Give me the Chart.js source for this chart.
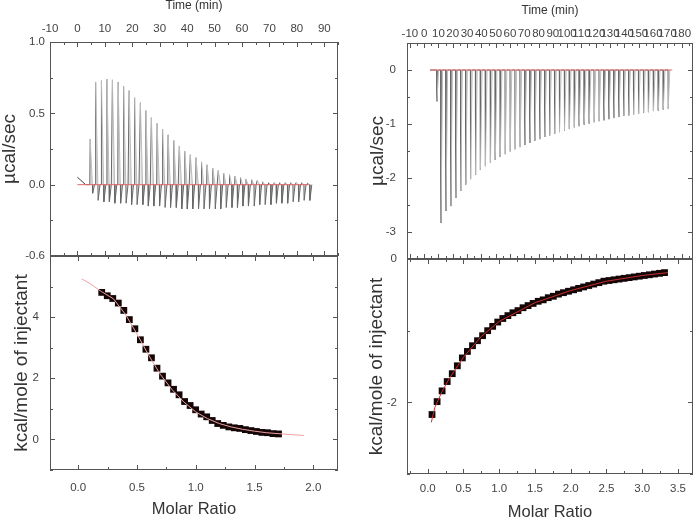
<!DOCTYPE html>
<html>
<head>
<meta charset="utf-8">
<script src="https://cdn.jsdelivr.net/npm/chart.js@4.4.0/dist/chart.umd.min.js"></script>
<style>
  html, body { margin: 0; padding: 0; background: #fff; }
  #wrap { position: relative; width: 700px; height: 521px; }
  #wrap canvas { position: absolute; left: 0; top: 0; }
</style>
</head>
<body>
<div id="wrap">
  <canvas id="lt" width="700" height="521"></canvas>
  <canvas id="lb" width="700" height="521"></canvas>
  <canvas id="rt" width="700" height="521"></canvas>
  <canvas id="rb" width="700" height="521"></canvas>
</div>
<script>
// Left thermogram (µcal/sec vs time)
const ltInjTime = [4.5, 6.5, 8.6, 10.6, 12.6, 14.7, 16.7, 18.7, 20.7, 22.8,
    24.8, 26.8, 28.9, 30.9, 32.9, 35.0, 37.0, 39.0, 41.0, 43.1,
    45.1, 47.1, 49.2, 51.2, 53.2, 55.3, 57.3, 59.3, 61.3, 63.4,
    65.4, 67.4, 69.5, 71.5, 73.5, 75.6, 77.6, 79.6, 81.6, 83.7];
const ltPeak = [0.32, 0.72, 0.73, 0.74, 0.735, 0.72, 0.69, 0.66, 0.61, 0.575,
    0.52, 0.47, 0.43, 0.39, 0.35, 0.31, 0.27, 0.235, 0.21, 0.19,
    0.16, 0.14, 0.115, 0.10, 0.08, 0.07, 0.06, 0.05, 0.04, 0.035,
    0.03, 0.02, 0.015, 0.015, 0.015, 0.015, 0.015, 0.015, 0.015, 0.012];
const ltTrough = [-0.06, -0.11, -0.12, -0.12, -0.13, -0.13, -0.13, -0.14, -0.14, -0.14,
    -0.15, -0.15, -0.15, -0.16, -0.16, -0.16, -0.17, -0.17, -0.17, -0.17,
    -0.17, -0.17, -0.17, -0.17, -0.16, -0.16, -0.16, -0.15, -0.15, -0.15,
    -0.14, -0.14, -0.14, -0.13, -0.13, -0.13, -0.12, -0.12, -0.11, -0.11];
const ltDriftTime = [0, 3.0];
const ltDriftVal = [0.052, 0.0];
const ltBaseTime = [0, 84.3];
const ltBaseVal = [0, 0];

// Left isotherm (kcal/mole vs molar ratio)
const lbRatio = [0.200, 0.247, 0.294, 0.341, 0.388, 0.435, 0.482, 0.529, 0.576, 0.623,
    0.670, 0.717, 0.764, 0.811, 0.858, 0.905, 0.952, 0.999, 1.046, 1.093,
    1.140, 1.187, 1.234, 1.281, 1.328, 1.375, 1.422, 1.469, 1.516, 1.563,
    1.610, 1.657, 1.704];
const lbHeat = [4.81, 4.70, 4.61, 4.46, 4.22, 3.92, 3.62, 3.26, 2.95, 2.67,
    2.33, 2.07, 1.85, 1.64, 1.46, 1.24, 1.11, 0.97, 0.83, 0.74,
    0.62, 0.52, 0.46, 0.41, 0.38, 0.36, 0.32, 0.29, 0.26, 0.23,
    0.22, 0.19, 0.18];
const lbFitRatio = [0.03, 0.1, 0.2, 0.3, 0.4, 0.5, 0.6, 0.7, 0.8, 0.9, 1.0,
    1.1, 1.2, 1.3, 1.4, 1.5, 1.6, 1.7, 1.8, 1.92];
const lbFitHeat = [5.25, 5.1, 4.83, 4.6, 4.1, 3.45, 2.75, 2.12, 1.62, 1.22, 0.9,
    0.68, 0.52, 0.41, 0.33, 0.27, 0.22, 0.19, 0.16, 0.13];

// Right thermogram
const rtInjTime = [8.8, 11.6, 15.1, 18.5, 22.0, 25.4, 28.9, 32.3, 35.8, 39.2, 42.7,
    46.2, 49.6, 53.1, 56.5, 60.0, 63.4, 66.9, 70.3, 73.8, 77.2,
    80.7, 84.2, 87.6, 91.1, 94.5, 98.0, 101.4, 104.9, 108.3, 111.8,
    115.3, 118.7, 122.2, 125.6, 129.1, 132.5, 136.0, 139.4, 142.9, 146.3,
    149.8, 153.3, 156.7, 160.2, 163.6, 167.1, 170.5];
const rtDepth = [-0.58, -2.83, -2.61, -2.52, -2.37, -2.24, -2.12, -2.02, -1.94, -1.85, -1.78,
    -1.72, -1.66, -1.61, -1.56, -1.51, -1.47, -1.43, -1.39, -1.35, -1.31,
    -1.28, -1.24, -1.21, -1.18, -1.15, -1.12, -1.09, -1.06, -1.04, -1.01,
    -0.99, -0.97, -0.95, -0.93, -0.91, -0.89, -0.87, -0.85, -0.84, -0.82,
    -0.81, -0.79, -0.78, -0.76, -0.75, -0.73, -0.72];
const rtBaseTime = [4.1, 173.5];
const rtBaseVal = [0, 0];

// Right isotherm
const rbRatio = [0.060, 0.131, 0.201, 0.272, 0.343, 0.414, 0.484, 0.555, 0.626, 0.696,
    0.767, 0.838, 0.908, 0.979, 1.050, 1.121, 1.191, 1.262, 1.333, 1.403,
    1.474, 1.545, 1.615, 1.686, 1.757, 1.828, 1.898, 1.969, 2.040, 2.110,
    2.181, 2.252, 2.322, 2.393, 2.464, 2.535, 2.605, 2.676, 2.747, 2.817,
    2.888, 2.959, 3.029, 3.100, 3.171, 3.242, 3.312];
const rbHeat = [-2.17, -1.99, -1.84, -1.71, -1.60, -1.49, -1.38, -1.29, -1.21, -1.14,
    -1.07, -1.00, -0.94, -0.88, -0.83, -0.79, -0.75, -0.72, -0.68, -0.65,
    -0.62, -0.59, -0.57, -0.54, -0.52, -0.49, -0.47, -0.45, -0.43, -0.41,
    -0.39, -0.37, -0.35, -0.33, -0.31, -0.30, -0.29, -0.28, -0.27, -0.26,
    -0.25, -0.24, -0.23, -0.22, -0.21, -0.20, -0.19];
const rbFitRatio = [0.05, 0.1, 0.2, 0.3, 0.5, 0.75, 1.0, 1.5, 2.0, 2.5, 3.0, 3.36];
const rbFitHeat = [-2.28, -2.07, -1.85, -1.67, -1.37, -1.08, -0.87, -0.61, -0.44, -0.31, -0.23, -0.19];

// Tick labels
const ltTimeTicks = [-10, 0, 10, 20, 30, 40, 50, 60, 70, 80, 90];
const ltYTicks = [1.0, 0.5, 0.0, -0.5];
const ltYLabels = ['1.0', '0.5', '0.0', '-0.6'];
const lbXTicks = [0, 0.5, 1.0, 1.5, 2.0];
const lbXLabels = ['0.0', '0.5', '1.0', '1.5', '2.0'];
const lbYTicks = [4, 2, 0];
const rtTimeTicks = [-10, 0, 10, 20, 30, 40, 50, 60, 70, 80, 90, 100, 110, 120, 130, 140, 150, 160, 170, 180];
const rtYTicks = [0, -1, -2, -3];
const rbXTicks = [0, 0.5, 1.0, 1.5, 2.0, 2.5, 3.0, 3.5];
const rbXLabels = ['0.0', '0.5', '1.0', '1.5', '2.0', '2.5', '3.0', '3.5'];
const rbYTicks = [0, -2];

const FONT = '"Liberation Sans", Arial, sans-serif';
const DARK = '#686868';
const LIGHT = '#bdbdbd';
const FILL = 'rgba(205,205,205,0.75)';

function zip(xs, ys) {
    return xs.map((x, i) => ({ x: x, y: ys[i] }));
}

// traço do termograma: sobe até o pico, desce abaixo de zero, volta à linha de base
function thermoUp(times, peaks, troughs, start) {
    const pts = [{ x: start, y: 0 }];
    times.forEach((t, i) => {
        pts.push({ x: t, y: 0 }, { x: t + 0.15, y: peaks[i] }, { x: t + 0.95, y: 0 },
            { x: t + 1.05, y: troughs[i] }, { x: t + 1.75, y: 0 });
    });
    return pts;
}

function thermoDown(times, depths, start) {
    const pts = [{ x: start, y: 0 }];
    times.forEach((t, i) => {
        pts.push({ x: t, y: 0 }, { x: t + 0.15, y: depths[i] }, { x: t + 1.3, y: 0 });
    });
    return pts;
}

function same(a, b) { return Math.abs(a - b) < 1e-6; }

function buildTicks(labelled, step) {
    return function (scale) {
        const vals = labelled.slice();
        const first = Math.ceil(scale.min / step - 1e-9) * step;
        for (let v = first; v <= scale.max + 1e-9; v += step) {
            const r = Math.round(v * 1000) / 1000;
            if (!vals.some(l => same(l, r))) vals.push(r);
        }
        vals.sort((a, b) => a - b);
        scale.ticks = vals.map(v => ({ value: v, major: labelled.some(l => same(l, v)) }));
    };
}

function labelFor(labelled, texts) {
    return function (value) {
        const k = labelled.findIndex(l => same(l, value));
        return k < 0 ? '' : texts[k];
    };
}

function axis(c, pos) {
    return {
        type: 'linear',
        position: pos,
        min: c.min,
        max: c.max,
        grid: { display: false, drawTicks: false },
        border: { display: false },
        afterBuildTicks: buildTicks(c.ticks, c.step),
        afterFit: s => {
            if (pos === 'left') s.width = c.size; else s.height = c.size;
        },
        ticks: {
            autoSkip: false, maxRotation: 0, minRotation: 0,
            padding: c.pad, color: '#444',
            font: { family: FONT, size: 11.5 },
            callback: labelFor(c.ticks, c.labels || c.ticks.map(String))
        },
        title: {
            display: true, text: c.title, color: '#333', padding: 0,
            font: { family: FONT, size: c.titleSize, lineHeight: 1 }
        }
    };
}

// moldura com marcas de escala para dentro
const framePlugin = {
    id: 'frame',
    afterDatasetsDraw(chart) {
        const { ctx, chartArea: a } = chart;
        const xs = chart.scales.x, ys = chart.scales.y;
        ctx.save();
        ctx.strokeStyle = '#555';
        ctx.lineWidth = 1;
        ctx.strokeRect(a.left + 0.5, a.top + 0.5, a.right - a.left - 1, a.bottom - a.top - 1);
        ctx.beginPath();
        xs.ticks.forEach(t => {
            const p = Math.round(xs.getPixelForValue(t.value)) + 0.5;
            const len = t.major ? 5 : 3;
            ctx.moveTo(p, a.top); ctx.lineTo(p, a.top + len);
            ctx.moveTo(p, a.bottom); ctx.lineTo(p, a.bottom - len);
        });
        ys.ticks.forEach(t => {
            const p = Math.round(ys.getPixelForValue(t.value)) + 0.5;
            const len = t.major ? 5 : 3;
            ctx.moveTo(a.left, p); ctx.lineTo(a.left + len, p);
            ctx.moveTo(a.right, p); ctx.lineTo(a.right - len, p);
        });
        ctx.stroke();
        ctx.restore();
    }
};

function panelOptions(pad, xCfg, yCfg) {
    return {
        responsive: false,
        animation: false,
        layout: { padding: pad },
        plugins: { legend: { display: false }, tooltip: { enabled: false } },
        scales: { x: axis(xCfg, xCfg.position), y: axis(yCfg, 'left') }
    };
}

function lineSet(data, color, extra) {
    return Object.assign({ data: data, showLine: true, borderColor: color, borderWidth: 1, pointRadius: 0 }, extra || {});
}

function squareSet(data) {
    return { data: data, showLine: false, pointStyle: 'rect', pointRadius: 4.8,
        backgroundColor: '#140606', borderWidth: 0 };
}

// Painel superior esquerdo
new Chart(document.getElementById('lt'), {
    type: 'scatter',
    data: {
        datasets: [
            lineSet(zip(ltBaseTime, ltBaseVal), '#e26a6a'),
            lineSet(zip(ltDriftTime, ltDriftVal), '#444'),
            lineSet(thermoUp(ltInjTime, ltPeak, ltTrough, ltDriftTime[1]), DARK, {
                fill: 'origin', backgroundColor: FILL,
                segment: { borderColor: ctx => ((ctx.p0DataIndex - 1) % 5 === 1 ? LIGHT : DARK) }
            })
        ]
    },
    options: panelOptions({ left: 0, top: 0, right: 362, bottom: 265 },
        { position: 'top', min: -10, max: 95, ticks: ltTimeTicks, step: 5, size: 42, pad: 6.6, title: 'Time (min)', titleSize: 12 },
        { min: -0.5, max: 1.0, ticks: ltYTicks, labels: ltYLabels, step: 0.25, size: 50, pad: 5, title: 'µcal/sec', titleSize: 19 }),
    plugins: [framePlugin]
});

// Painel inferior esquerdo
new Chart(document.getElementById('lb'), {
    type: 'scatter',
    data: {
        datasets: [
            lineSet(zip(lbFitRatio, lbFitHeat), '#f0a0a0'),
            squareSet(zip(lbRatio, lbHeat))
        ]
    },
    options: panelOptions({ left: 12.5, top: 256, right: 362, bottom: 3 },
        { position: 'bottom', min: -0.24, max: 2.21, ticks: lbXTicks, labels: lbXLabels, step: 0.25, size: 48, pad: 10.6, title: 'Molar Ratio', titleSize: 16.5 },
        { min: -1, max: 6, ticks: lbYTicks, step: 1, size: 37.5, pad: 11, title: 'kcal/mole of injectant', titleSize: 19 }),
    plugins: [framePlugin]
});

// Painel superior direito
new Chart(document.getElementById('rt'), {
    type: 'scatter',
    data: {
        datasets: [
            lineSet(zip(rtBaseTime, rtBaseVal), '#e26a6a'),
            lineSet(thermoDown(rtInjTime, rtDepth, rtBaseTime[0]), DARK, {
                fill: 'origin', backgroundColor: FILL,
                segment: { borderColor: ctx => ((ctx.p0DataIndex - 1) % 3 === 1 ? LIGHT : DARK) }
            })
        ]
    },
    options: panelOptions({ left: 368, top: 5, right: 7, bottom: 262 },
        { position: 'top', min: -12, max: 188, ticks: rtTimeTicks, step: 5, size: 38, pad: 2.6, title: 'Time (min)', titleSize: 12 },
        { min: -3.5, max: 0.5, ticks: rtYTicks, step: 0.5, size: 39, pad: 11, title: 'µcal/sec', titleSize: 19 }),
    plugins: [framePlugin]
});

// Painel inferior direito
new Chart(document.getElementById('rb'), {
    type: 'scatter',
    data: {
        datasets: [
            lineSet(zip(rbFitRatio, rbFitHeat), '#c83030'),
            squareSet(zip(rbRatio, rbHeat))
        ]
    },
    options: panelOptions({ left: 367.5, top: 259, right: 7, bottom: 0 },
        { position: 'bottom', min: -0.29, max: 3.71, ticks: rbXTicks, labels: rbXLabels, step: 0.25, size: 47, pad: 8, title: 'Molar Ratio', titleSize: 16.5 },
        { min: -3, max: 0, ticks: rbYTicks, step: 1, size: 39.5, pad: 10, title: 'kcal/mole of injectant', titleSize: 19 }),
    plugins: [framePlugin]
});
</script>
</body>
</html>
